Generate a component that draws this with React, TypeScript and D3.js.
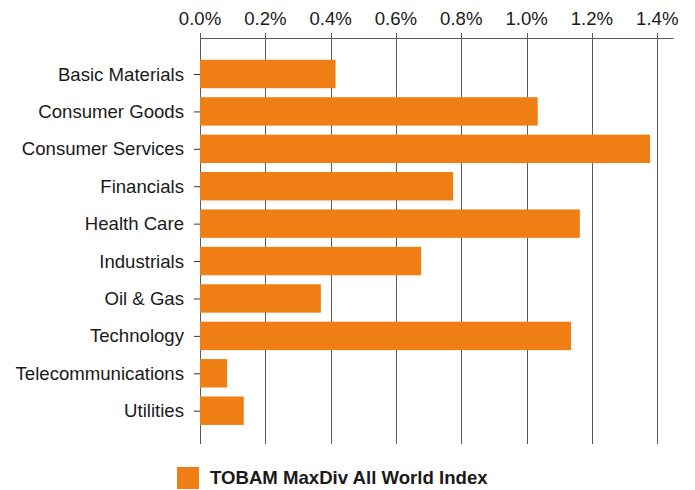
import React, { useRef, useEffect } from "react";
import * as d3 from "d3";

const categories = [
  "Basic Materials",
  "Consumer Goods",
  "Consumer Services",
  "Financials",
  "Health Care",
  "Industrials",
  "Oil & Gas",
  "Technology",
  "Telecommunications",
  "Utilities",
];
// weights in %
const values = [0.415, 1.034, 1.378, 0.775, 1.163, 0.677, 0.37, 1.136, 0.083, 0.134];
const tickValues = [0, 0.2, 0.4, 0.6, 0.8, 1.0, 1.2, 1.4];
const seriesName = "TOBAM MaxDiv All World Index";

const width = 695;
const height = 490;
const orange = "#ef7f15";
const font = "'Liberation Sans', Arial, sans-serif";
const fontSize = 18.6;

const App: React.FC = () => {
  const ref = useRef<SVGSVGElement | null>(null);

  useEffect(() => {
    const svg = d3.select(ref.current);
    svg.selectAll("*").remove();

    const x = d3.scaleLinear().domain([0, 1.45]).range([200, 673.6]);
    const y = d3
      .scaleBand<string>()
      .domain(categories)
      .range([55.3, 429.4])
      .paddingInner(0.24)
      .paddingOuter(0.12);

    const axisY = 38;
    const gridBottom = 444;

    // gridlines
    svg
      .append("g")
      .selectAll("line")
      .data(tickValues)
      .enter()
      .append("line")
      .attr("x1", (d) => Math.round(x(d)) + 0.5)
      .attr("x2", (d) => Math.round(x(d)) + 0.5)
      .attr("y1", 33)
      .attr("y2", gridBottom)
      .attr("stroke", "#5a5a5a")
      .attr("stroke-width", 1);

    // top axis line
    svg
      .append("line")
      .attr("x1", x(0))
      .attr("x2", x(1.45))
      .attr("y1", axisY + 0.5)
      .attr("y2", axisY + 0.5)
      .attr("stroke", "#5a5a5a");

    // tick labels
    svg
      .append("g")
      .selectAll("text")
      .data(tickValues)
      .enter()
      .append("text")
      .attr("x", (d) => x(d))
      .attr("y", 25)
      .attr("text-anchor", "middle")
      .attr("font-family", font)
      .attr("font-size", fontSize)
      .attr("fill", "#1a1a1a")
      .text((d) => d3.format(".1f")(d) + "%");

    // bars
    svg
      .append("g")
      .selectAll("rect")
      .data(categories)
      .enter()
      .append("rect")
      .attr("x", x(0))
      .attr("y", (d) => y(d)!)
      .attr("width", (d, i) => x(values[i]) - x(0))
      .attr("height", y.bandwidth())
      .attr("fill", orange);

    // category ticks and labels
    const cat = svg
      .append("g")
      .selectAll("g")
      .data(categories)
      .enter()
      .append("g")
      .attr("transform", (d) => `translate(0, ${y(d)! + y.bandwidth() / 2})`);

    cat
      .append("line")
      .attr("x1", 194)
      .attr("x2", 200)
      .attr("y1", 0.5)
      .attr("y2", 0.5)
      .attr("stroke", "#333");

    cat
      .append("text")
      .attr("x", 184)
      .attr("y", 0)
      .attr("dy", "0.35em")
      .attr("text-anchor", "end")
      .attr("font-family", font)
      .attr("font-size", fontSize)
      .attr("fill", "#1a1a1a")
      .text((d) => d);

    // legend
    const legend = svg.append("g").attr("transform", "translate(177, 467)");
    legend.append("rect").attr("width", 22).attr("height", 22).attr("fill", orange);
    legend
      .append("text")
      .attr("x", 33)
      .attr("y", 17)
      .attr("font-family", font)
      .attr("font-size", fontSize)
      .attr("font-weight", "bold")
      .attr("fill", "#1a1a1a")
      .text(seriesName);
  }, []);

  return (
    <svg
      ref={ref}
      width={width}
      height={height}
      style={{ position: "absolute", left: 0, top: 0, background: "#fff" }}
    />
  );
};

export default App;
